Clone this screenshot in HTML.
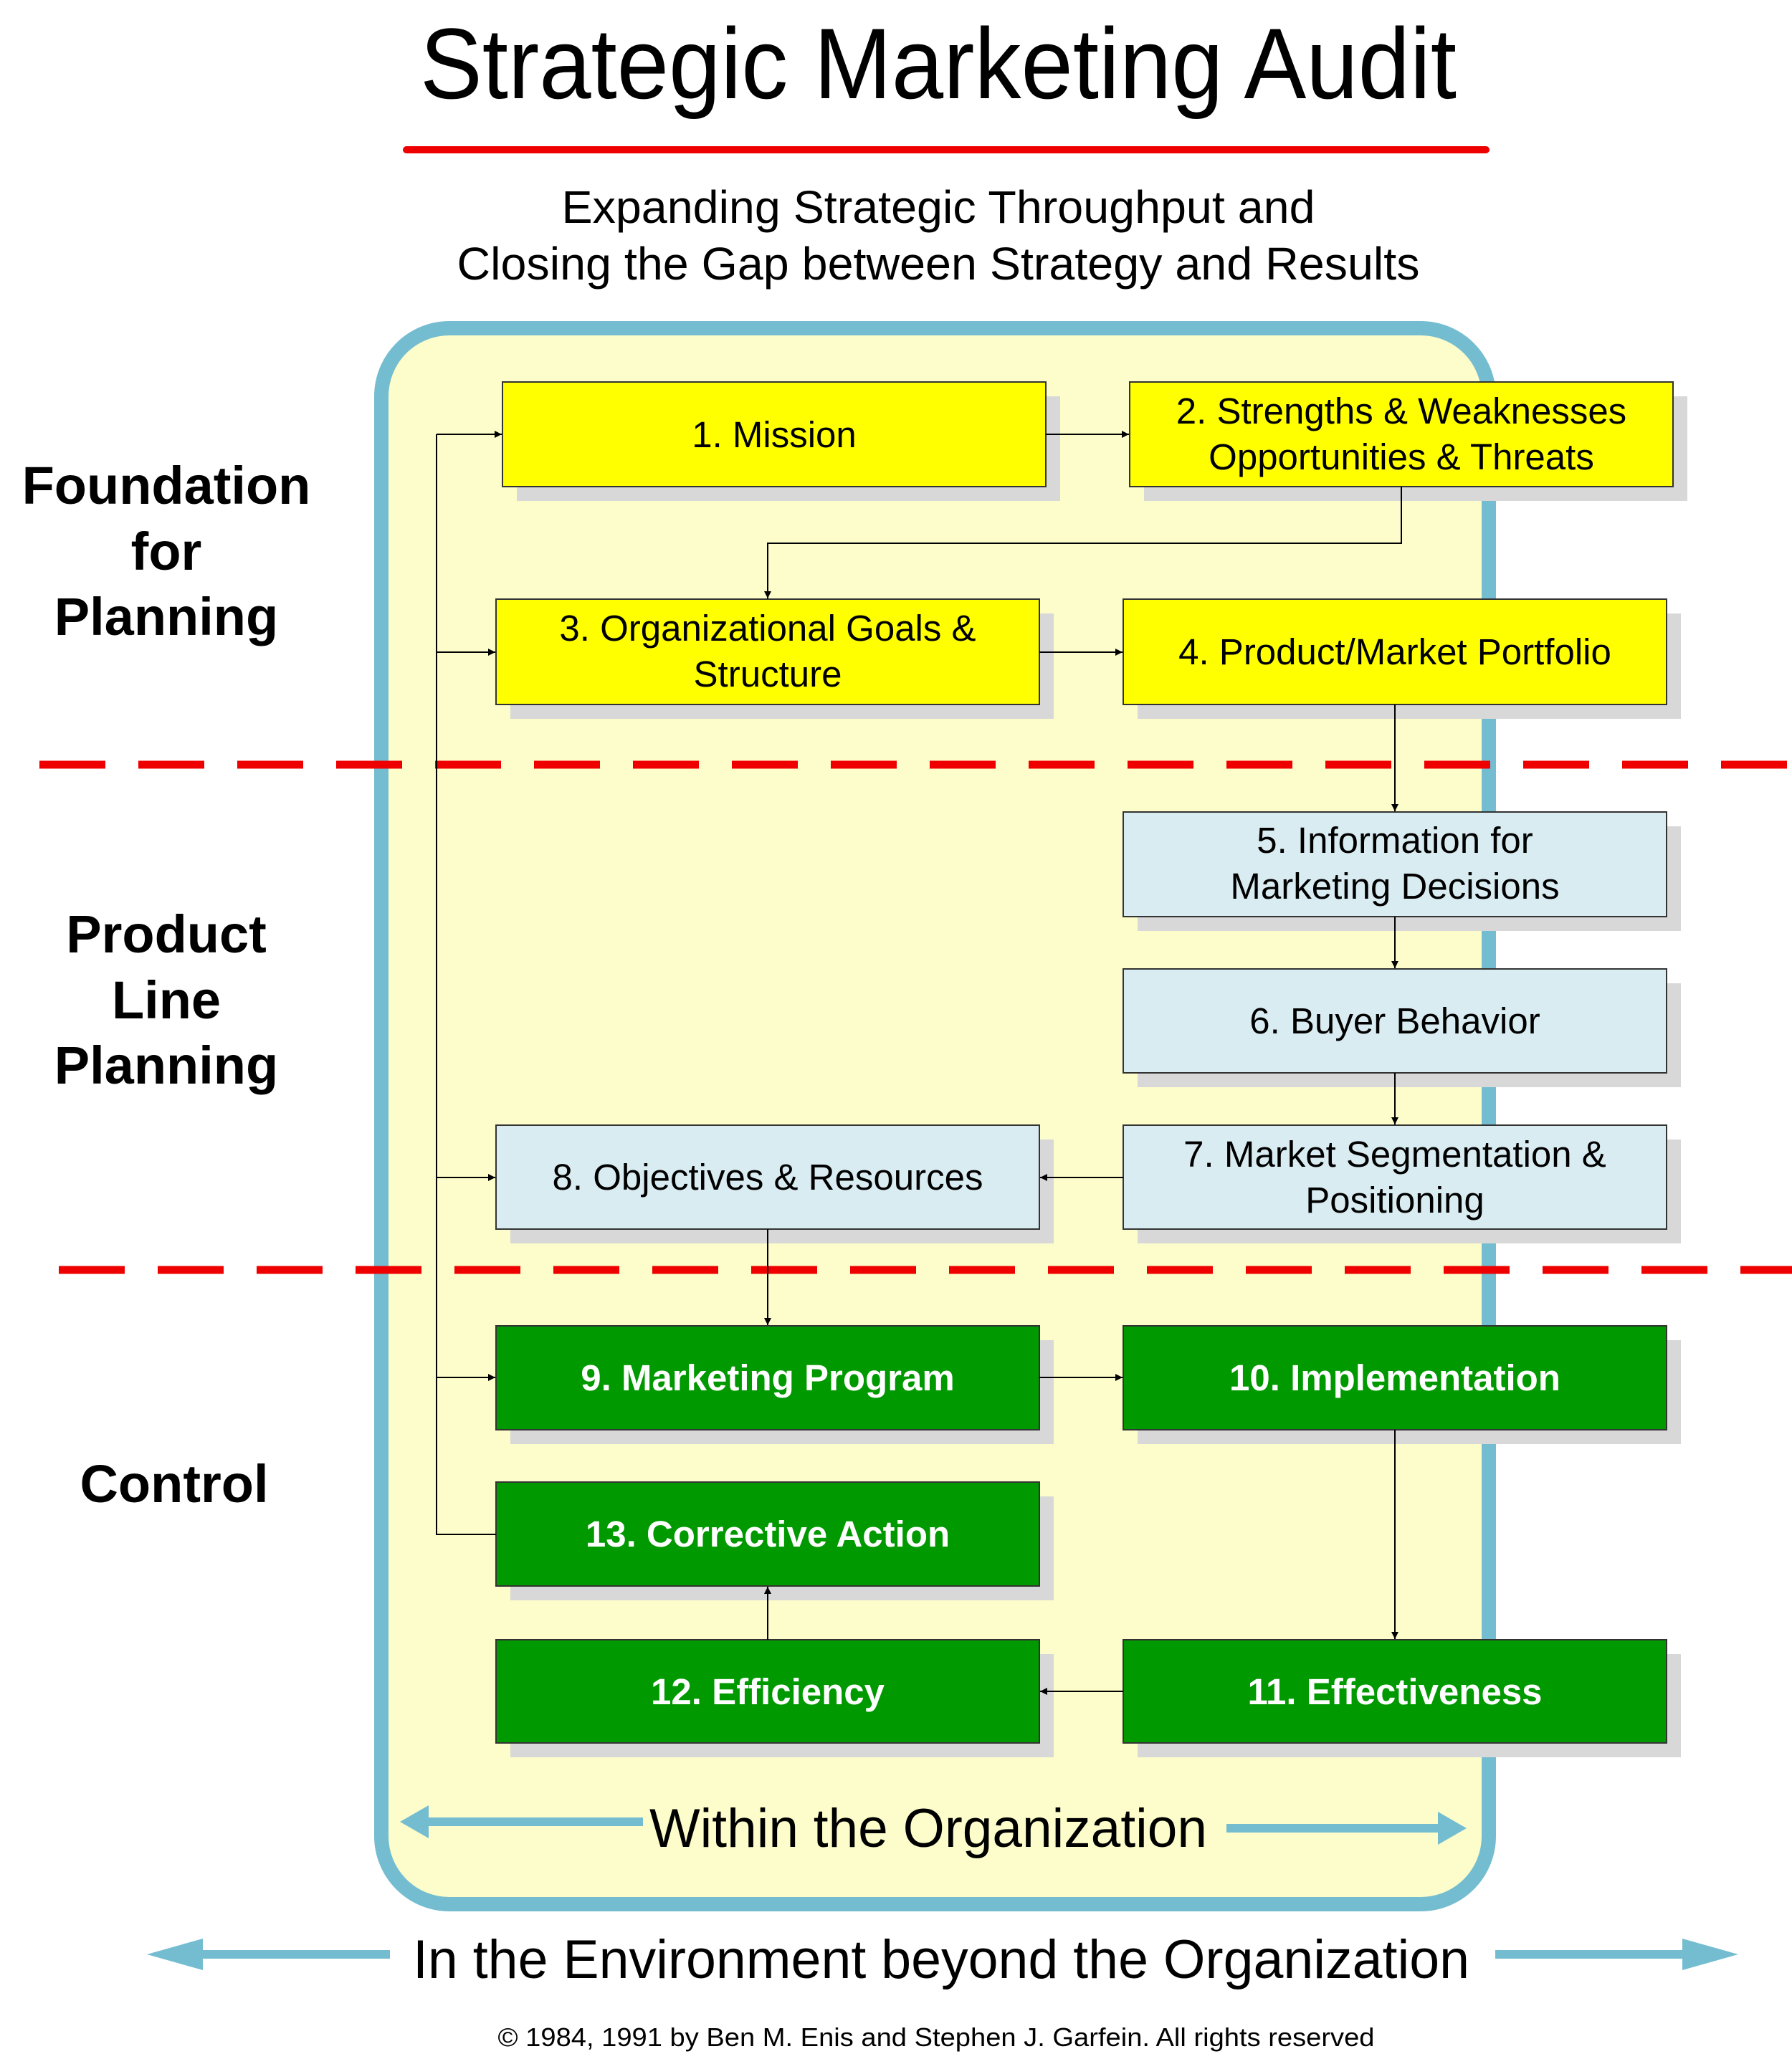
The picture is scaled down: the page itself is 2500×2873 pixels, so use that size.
<!DOCTYPE html>
<html><head><meta charset="utf-8"><style>html,body{margin:0;padding:0;background:#fff}svg{display:block}</style></head>
<body>
<svg width="2500" height="2873" viewBox="0 0 2500 2873" xmlns="http://www.w3.org/2000/svg" font-family="Liberation Sans, Arial, sans-serif">
<defs>
<marker id="ah" markerWidth="10" markerHeight="10" refX="10" refY="5" orient="auto" markerUnits="userSpaceOnUse" viewBox="0 0 10 10"><path d="M0,0 L10,5 L0,10 z" fill="#000"/></marker>
</defs>
<text x="1309" y="137" font-size="140" text-anchor="middle" textLength="1446" lengthAdjust="spacingAndGlyphs">Strategic Marketing Audit</text>
<rect x="562" y="204" width="1516" height="10" rx="5" fill="#ee0000"/>
<text x="1309" y="311" font-size="64" text-anchor="middle" textLength="1051" lengthAdjust="spacingAndGlyphs">Expanding Strategic Throughput and</text>
<text x="1309" y="390" font-size="64" text-anchor="middle" textLength="1343" lengthAdjust="spacingAndGlyphs">Closing the Gap between Strategy and Results</text>

<rect x="532" y="458" width="1545" height="2199" rx="95" fill="#fdfdcb" stroke="#74bdd1" stroke-width="20"/>

<g font-weight="bold" font-size="74" text-anchor="middle">
<text x="232" y="703">Foundation</text><text x="232" y="795">for</text><text x="232" y="886">Planning</text>
<text x="232" y="1329">Product</text><text x="232" y="1421">Line</text><text x="232" y="1512">Planning</text>
<text x="243" y="2096">Control</text>
</g>

<line x1="55" y1="1067" x2="2500" y2="1067" stroke="#ee0000" stroke-width="11" stroke-dasharray="92 46"/>
<line x1="82" y1="1772" x2="2500" y2="1772" stroke="#ee0000" stroke-width="11" stroke-dasharray="92 46"/>

<!-- shadows -->
<g fill="#d8d8d8">
<rect x="721" y="553" width="758" height="146"/><rect x="1596" y="553" width="758" height="146"/>
<rect x="712" y="856" width="758" height="147"/><rect x="1587" y="856" width="758" height="147"/>
<rect x="1587" y="1153" width="758" height="146"/><rect x="1587" y="1372" width="758" height="145"/>
<rect x="1587" y="1590" width="758" height="145"/><rect x="712" y="1590" width="758" height="145"/>
<rect x="712" y="1870" width="758" height="145"/><rect x="1587" y="1870" width="758" height="145"/>
<rect x="712" y="2088" width="758" height="145"/><rect x="712" y="2308" width="758" height="144"/>
<rect x="1587" y="2308" width="758" height="144"/>
</g>
<g stroke="#333" stroke-width="2">
<rect x="701" y="533" width="758" height="146" fill="#ffff00"/><rect x="1576" y="533" width="758" height="146" fill="#ffff00"/>
<rect x="692" y="836" width="758" height="147" fill="#ffff00"/><rect x="1567" y="836" width="758" height="147" fill="#ffff00"/>
<rect x="1567" y="1133" width="758" height="146" fill="#d9ecf2"/><rect x="1567" y="1352" width="758" height="145" fill="#d9ecf2"/>
<rect x="1567" y="1570" width="758" height="145" fill="#d9ecf2"/><rect x="692" y="1570" width="758" height="145" fill="#d9ecf2"/>
<rect x="692" y="1850" width="758" height="145" fill="#009900"/><rect x="1567" y="1850" width="758" height="145" fill="#009900"/>
<rect x="692" y="2068" width="758" height="145" fill="#009900"/><rect x="692" y="2288" width="758" height="144" fill="#009900"/>
<rect x="1567" y="2288" width="758" height="144" fill="#009900"/>
</g>

<g font-size="51" text-anchor="middle">
<text x="1080" y="624">1. Mission</text>
<text x="1955" y="591">2. Strengths &amp; Weaknesses</text><text x="1955" y="655">Opportunities &amp; Threats</text>
<text x="1071" y="894">3. Organizational Goals &amp;</text><text x="1071" y="958">Structure</text>
<text x="1946" y="927">4. Product/Market Portfolio</text>
<text x="1946" y="1190">5. Information for</text><text x="1946" y="1254">Marketing Decisions</text>
<text x="1946" y="1442">6. Buyer Behavior</text>
<text x="1946" y="1628">7. Market Segmentation &amp;</text><text x="1946" y="1692">Positioning</text>
<text x="1071" y="1660">8. Objectives &amp; Resources</text>
</g>
<g font-size="51" text-anchor="middle" font-weight="bold" fill="#fff">
<text x="1071" y="1940">9. Marketing Program</text>
<text x="1946" y="1940">10. Implementation</text>
<text x="1071" y="2158">13. Corrective Action</text>
<text x="1071" y="2378">12. Efficiency</text>
<text x="1946" y="2378">11. Effectiveness</text>
</g>

<g stroke="#000" stroke-width="2" fill="none">
<polyline points="692,2141 609,2141 609,606"/>
</g>
<g stroke="#000" stroke-width="2" fill="none" marker-end="url(#ah)" style="--x:0">
<line x1="609" y1="606" x2="700" y2="606" stroke-width="2"/>
<line x1="609" y1="910" x2="691" y2="910"/>
<line x1="609" y1="1643" x2="691" y2="1643"/>
<line x1="609" y1="1922" x2="691" y2="1922"/>
<line x1="1459" y1="606" x2="1575" y2="606"/>
<polyline points="1955,679 1955,758 1071,758 1071,835"/>
<line x1="1450" y1="910" x2="1566" y2="910"/>
<line x1="1946" y1="983" x2="1946" y2="1132"/>
<line x1="1946" y1="1279" x2="1946" y2="1351"/>
<line x1="1946" y1="1497" x2="1946" y2="1569"/>
<line x1="1567" y1="1643" x2="1451" y2="1643"/>
<line x1="1071" y1="1715" x2="1071" y2="1849"/>
<line x1="1450" y1="1922" x2="1566" y2="1922"/>
<line x1="1946" y1="1995" x2="1946" y2="2287"/>
<line x1="1567" y1="2360" x2="1451" y2="2360"/>
<line x1="1071" y1="2288" x2="1071" y2="2214"/>
</g>
<style>marker path{}</style>

<!-- blue arrows -->
<g fill="#74bdd1">
<rect x="595" y="2536" width="302" height="12"/><path d="M558,2542 L598,2519 L598,2565 z"/>
<rect x="1711" y="2545" width="300" height="12"/><path d="M2046,2551 L2006,2528 L2006,2574 z"/>
<rect x="245" y="2721" width="299" height="12"/><path d="M205,2727 L283,2705 L283,2749 z"/>
<rect x="2086" y="2721" width="299" height="12"/><path d="M2425,2727 L2347,2705 L2347,2749 z"/>
</g>
<text x="1295" y="2577" font-size="76" text-anchor="middle" textLength="778" lengthAdjust="spacingAndGlyphs">Within the Organization</text>
<text x="1313" y="2760" font-size="76" text-anchor="middle" textLength="1474" lengthAdjust="spacingAndGlyphs">In the Environment beyond the Organization</text>
<text x="1306" y="2855" font-size="36" text-anchor="middle" textLength="1223" lengthAdjust="spacingAndGlyphs">© 1984, 1991 by Ben M. Enis and Stephen J. Garfein.  All rights reserved</text>
</svg>
</body></html>
